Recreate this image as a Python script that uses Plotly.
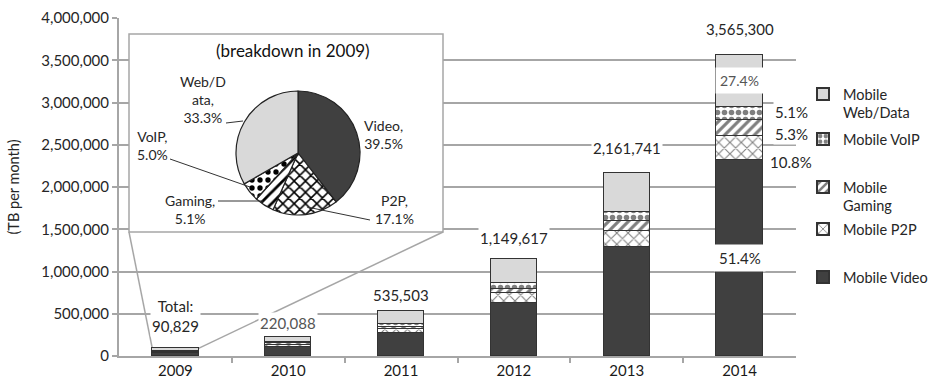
import plotly.graph_objects as go

# ---------------- data ----------------
years = ["2009", "2010", "2011", "2012", "2013", "2014"]
totals = [90829, 220088, 535503, 1149617, 2161741, 3565300]
video = [35900, 105000, 276000, 624000, 1293000, 2320000]
p2p = [15500, 30000, 40000, 118000, 186000, 280000]
gaming = [4600, 13000, 31000, 54000, 119000, 190000]
voip = [4500, 12000, 32000, 64000, 103000, 155000]
web = [30300, 60000, 156500, 289600, 460700, 620300]

pie_labels = ["Video", "P2P", "Gaming", "VoIP", "Web/Data"]
pie_values = [39.5, 17.1, 5.1, 5.0, 33.3]
pie_text = ["Video,<br>39.5%", "P2P,<br>17.1%", "Gaming,<br>5.1%", "VoIP,<br>5.0%", "Web/D<br>ata,<br>33.3%"]

pct_2014 = {"Mobile Video": "51.4%", "Mobile P2P": "10.8%", "Mobile Gaming": "5.3%",
            "Mobile VoIP": "5.1%", "Mobile Web/Data": "27.4%"}

# ---------------- layout helpers ----------------
W, H = 928, 382
ML, MR, MT, MB = 119, 132, 18, 26
PW, PH = W - ML - MR, H - MT - MB
YMAX = 4000000
BAR_W = 0.41
FONT = "Lato"
TXT = "#262626"
GRID = "#a6a6a6"
DARK = "#404040"
LIGHT = "#d9d9d9"


def pxp(x):  # pixel -> paper x (plot-area relative)
    return (x - ML) / PW


def pyp(y):  # pixel -> paper y (plot-area relative)
    return (H - MB - y) / PH


def pxd(x):  # pixel -> data x
    return -0.5 + (x - ML) / PW * 6


def pyd(y):  # pixel -> data y
    return (H - MB - y) / PH * YMAX


xs = list(range(len(years)))

series = [
    ("Mobile Video", video, dict(color=DARK)),
    ("Mobile P2P", p2p, dict(color="white", pattern=dict(shape="x", fgcolor="#000", bgcolor="white", size=8, solidity=0.25))),
    ("Mobile Gaming", gaming, dict(color="white", pattern=dict(shape="/", fgcolor="#000", bgcolor="white", size=7, solidity=0.45))),
    ("Mobile VoIP", voip, dict(color="white", pattern=dict(shape=".", fgcolor="#000", bgcolor="white", size=7, solidity=0.5))),
    ("Mobile Web/Data", web, dict(color=LIGHT)),
]
legend_y = {"Mobile Web/Data": 92, "Mobile VoIP": 139, "Mobile Gaming": 185,
            "Mobile P2P": 229, "Mobile Video": 277}
legend_names = {"Mobile Web/Data": "Mobile<br>Web/Data", "Mobile Gaming": "Mobile<br>Gaming"}

fig = go.Figure()
legend_ids = {}
for i, (name, vals, mk) in enumerate(series):
    lid = "legend" if i == 0 else f"legend{i + 1}"
    legend_ids[name] = lid
    fig.add_trace(go.Bar(
        x=xs, y=vals, name=legend_names.get(name, name), width=BAR_W,
        marker=dict(line=dict(color="#333", width=1), **mk),
        legend=lid, hovertemplate=name + ": %{y:,}<extra></extra>",
    ))

# inset pie (2009 breakdown)
fig.add_trace(go.Pie(
    labels=pie_labels, values=pie_values, sort=False, direction="clockwise", rotation=0,
    textinfo="none", showlegend=False,
    domain=dict(x=[pxp(236), pxp(360)], y=[pyp(216), pyp(90)]),
    marker=dict(
        colors=[DARK, "white", "white", "white", LIGHT],
        line=dict(color="#222", width=1.2),
        pattern=dict(shape=["", "x", "/", ".", ""], fgcolor="#000", bgcolor=[DARK, "white", "white", "white", LIGHT],
                     size=8, solidity=0.35),
    ),
))

# ---------------- shapes ----------------
shapes = []
box_l, box_r, box_t, box_b = pxd(129), pxd(443), pyd(34), pyd(232)
shapes.append(dict(type="rect", xref="x", yref="y", x0=box_l, x1=box_r, y0=box_b, y1=box_t,
                   fillcolor="white", line=dict(color=GRID, width=1.5), layer="between"))
shapes.append(dict(type="line", xref="x", yref="y", x0=box_l, y0=box_b, x1=xs[0] - BAR_W / 2, y1=totals[0],
                   line=dict(color=GRID, width=1.5), layer="between"))
shapes.append(dict(type="line", xref="x", yref="y", x0=box_r, y0=box_b, x1=xs[0] + BAR_W / 2, y1=totals[0],
                   line=dict(color=GRID, width=1.5), layer="between"))
for (x0, y0, x1, y1) in [(226, 123, 243, 121), (170, 159, 250, 187), (218, 201, 263, 201), (370, 220, 307, 207)]:
    shapes.append(dict(type="line", xref="paper", yref="paper", x0=pxp(x0), y0=pyp(y0), x1=pxp(x1), y1=pyp(y1),
                       line=dict(color="#333", width=1), layer="above"))

# ---------------- annotations ----------------
ann = []
CM = dict(xanchor="center", yanchor="middle", showarrow=False)
total_y = [316, 323, 295, 238, 148, 29]
for i, t in enumerate(totals):
    txt = f"Total:<br>{t:,}" if i == 0 else f"{t:,}"
    ann.append(dict(x=xs[i], y=pyp(total_y[i]), xref="x", yref="paper", text=txt,
                    font=dict(family=FONT, size=15, color="#555" if i == 1 else TXT),
                    bgcolor="white", borderpad=1, **CM))

ann.append(dict(x=xs[5], y=pyp(81), xref="x", yref="paper", text=pct_2014["Mobile Web/Data"],
                font=dict(family=FONT, size=14, color="#555"), bgcolor="white", borderpad=4, **CM))
ann.append(dict(x=xs[5], y=pyp(258), xref="x", yref="paper", text=pct_2014["Mobile Video"],
                font=dict(family=FONT, size=15, color=TXT), bgcolor="white", borderpad=4, **CM))
for key, yy in [("Mobile VoIP", 112), ("Mobile Gaming", 134), ("Mobile P2P", 162)]:
    ann.append(dict(x=pxp(791), y=pyp(yy), xref="paper", yref="paper", text=pct_2014[key],
                    font=dict(family=FONT, size=15, color=TXT), bgcolor="white", borderpad=1, **CM))

ann.append(dict(x=pxp(293), y=pyp(50), xref="paper", yref="paper", text="(breakdown in 2009)",
                font=dict(family=FONT, size=17, color="#111"), **CM))
pie_label_pos = [(383, 134), (394, 209), (190, 209), (152, 145), (203, 99)]
for txt, (x, y) in zip(pie_text, pie_label_pos):
    ann.append(dict(x=pxp(x), y=pyp(y), xref="paper", yref="paper", text=txt,
                    font=dict(family=FONT, size=14, color=TXT), align="center", **CM))

# ---------------- legends ----------------
legends = {}
for name, lid in legend_ids.items():
    two = name in legend_names
    legends[lid] = dict(
        x=pxp(803), xanchor="left",
        y=pyp(legend_y[name] - (14 if two else 0)), yanchor="top" if two else "middle",
        valign="top", bgcolor="rgba(0,0,0,0)", borderwidth=0,
        font=dict(family=FONT, size=14.5, color=TXT),
        tracegroupgap=0, itemsizing="constant",
    )

fig.update_layout(
    width=W, height=H, margin=dict(l=ML, r=MR, t=MT, b=MB, autoexpand=False),
    paper_bgcolor="white", plot_bgcolor="white",
    barmode="stack", bargap=0,
    font=dict(family=FONT, size=15, color=TXT),
    shapes=shapes, annotations=ann,
    xaxis=dict(range=[-0.5, 5.5], tickvals=xs, ticktext=years, ticks="", showgrid=False,
               showline=True, linecolor=GRID, linewidth=2, zeroline=False,
               tickfont=dict(family=FONT, size=15, color="#1a1a1a"),
               minor=dict(tickmode="array", tickvals=[x + 0.5 for x in xs[:-1]], ticks="outside",
                          ticklen=5, tickcolor=GRID, tickwidth=1.5, showgrid=False)),
    yaxis=dict(range=[0, YMAX], dtick=500000, tickformat=",d", showgrid=True, gridcolor=GRID, gridwidth=1.5,
               showline=True, linecolor=GRID, linewidth=2, ticks="outside", ticklen=5, tickcolor=GRID,
               tickwidth=1.5, zeroline=False, tickfont=dict(family=FONT, size=15, color=TXT),
               title=dict(text="(TB per month)", standoff=18, font=dict(family=FONT, size=14.5, color=TXT))),
    **legends,
)

fig.write_html("out.html")
